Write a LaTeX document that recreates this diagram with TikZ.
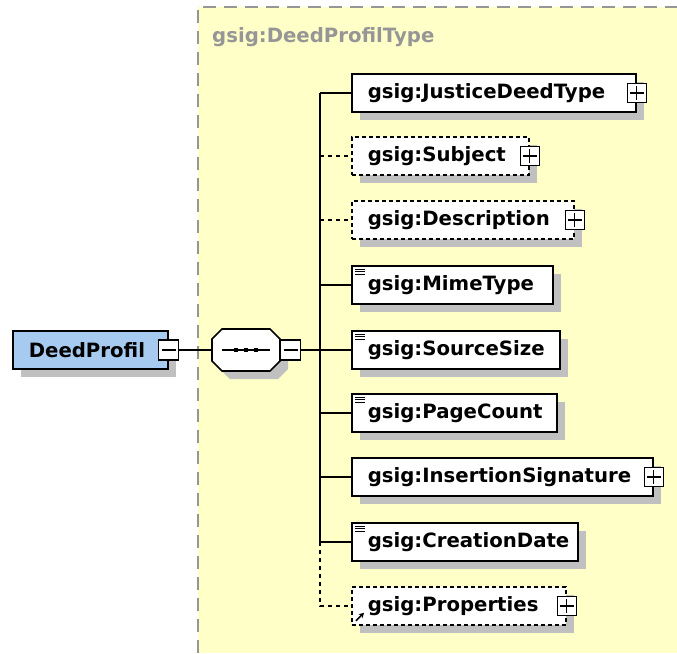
\documentclass[tikz,border=0pt]{standalone}
\usepackage{fontspec}
\setmainfont{DejaVu Sans}
\usepackage{tikz}
\usepackage{xcolor}
\usetikzlibrary{arrows.meta,shadows}

\definecolor{typeyellow}{RGB}{255,255,200}
\definecolor{typegray}{RGB}{150,150,150}
\definecolor{shadowgray}{RGB}{192,192,192}
\definecolor{rootblue}{RGB}{166,202,240}

\begin{document}
\begin{tikzpicture}[x=1pt,y=-1pt,
        every node/.style={font=\bfseries\fontsize{19.7}{22}\selectfont},
        boxshadow/.style={drop shadow={shadow xshift=8pt,shadow yshift=-8pt,fill=shadowgray,opacity=1}},
        elem/.style={draw, line width=1.6pt, fill=white, boxshadow, anchor=west,
            minimum height=38pt, inner xsep=16pt, inner ysep=0pt, text width=#1, align=left},
        optelem/.style={elem=#1, dash pattern=on 4pt off 3pt},
        listicon/.style={path picture={
            \foreach \k in {0,1,2}
                \draw[line width=0.9pt] ([xshift=3pt,yshift={-3pt-\k*2.5pt}]path picture bounding box.north west) -- ++(10pt,0pt);}},
        plusbox/.style={draw, line width=1.2pt, fill=white, minimum size=19pt, inner sep=0pt,
            path picture={\draw[line width=1.2pt]
                ([xshift=-7pt]path picture bounding box.center) -- ([xshift=7pt]path picture bounding box.center)
                ([yshift=-7pt]path picture bounding box.center) -- ([yshift=7pt]path picture bounding box.center);}},
        minusbox/.style={draw, line width=1.2pt, fill=white, minimum size=20pt, inner sep=0pt,
            path picture={\draw[line width=1.2pt]
                ([xshift=-7pt]path picture bounding box.center) -- ([xshift=7pt]path picture bounding box.center);}},
        wire/.style={line width=1.5pt},
        optwire/.style={wire, dash pattern=on 4pt off 4pt}]

    \useasboundingbox (0,0) rectangle (677,653);

    % complex type area
    \fill[typeyellow] (198,7) rectangle (677,653);
    \draw[typegray, line width=1.8pt, dash pattern=on 13pt off 8pt] (198,653) -- (198,7) -- (677,7);
    \node[anchor=west, text=typegray, inner sep=0pt] (typename) at (212,37) {gsig:DeedProfilType};

    % root element
    \node[draw, line width=1.6pt, fill=rootblue, boxshadow, anchor=west, minimum height=38pt,
          inner xsep=16pt, inner ysep=0pt, text width=123pt, align=left] (root) at (12,350) {DeedProfil};
    \node[minusbox] (rootminus) at (root.east) {};

    % sequence
    \node[minimum width=68pt, minimum height=42pt, inner sep=0pt] (seq) at (246,350) {};
    \begin{scope}[shift={(seq.center)}]
        \fill[shadowgray, shift={(8,8)}] (-34,-11) -- (-24,-21) -- (24,-21) -- (34,-11) -- (34,11) -- (24,21) -- (-24,21) -- (-34,11) -- cycle;
        \draw[line width=1.6pt, fill=white] (-34,-11) -- (-24,-21) -- (24,-21) -- (34,-11) -- (34,11) -- (24,21) -- (-24,21) -- (-34,11) -- cycle;
        \draw[line width=1.3pt] (-24,0) -- (24,0);
        \foreach \x in {-10,0,10}
            \fill (\x-2.2,-2.2) rectangle (\x+2.2,2.2);
    \end{scope}
    \node[minusbox, anchor=west] (seqminus) at (seq.east) {};
    \coordinate (bus) at (320,350);

    % children
    \node[elem=252pt] (jdt) at (351,93) {gsig:JusticeDeedType};
    \node[optelem=145pt] (subj) at (351,156) {gsig:Subject};
    \node[optelem=190pt] (desc) at (351,220) {gsig:Description};
    \node[elem=169pt, listicon] (mime) at (351,285) {gsig:MimeType};
    \node[elem=176pt, listicon] (size) at (351,350) {gsig:SourceSize};
    \node[elem=173pt, listicon] (count) at (351,413) {gsig:PageCount};
    \node[elem=269pt] (sig) at (351,477) {gsig:InsertionSignature};
    \node[elem=194pt, listicon] (date) at (351,542) {gsig:CreationDate};
    \node[optelem=182pt] (props) at (351,606) {gsig:Properties};

    \node[plusbox] (jdtplus) at (jdt.east) {};
    \node[plusbox] (subjplus) at (subj.east) {};
    \node[plusbox] (descplus) at (desc.east) {};
    \node[plusbox] (sigplus) at (sig.east) {};
    \node[plusbox] (propsplus) at (props.east) {};
    \draw[line width=1.6pt, -{Stealth[length=5pt,width=5.5pt]}] ([xshift=5pt,yshift=5pt]props.south west) -- ++(8pt,8pt);

    % connectors
    \draw[wire] (rootminus.east) -- (seq.west);
    \draw[wire] (seqminus.east) -- (bus);
    \draw[wire] (bus |- jdt.west) -- (bus |- date.west);
    \draw[wire] (bus |- jdt.west) -- (jdt.west);
    \draw[optwire] (bus |- subj.west) -- (subj.west);
    \draw[optwire] (bus |- desc.west) -- (desc.west);
    \draw[wire] (bus |- mime.west) -- (mime.west);
    \draw[wire] (bus |- size.west) -- (size.west);
    \draw[wire] (bus |- count.west) -- (count.west);
    \draw[wire] (bus |- sig.west) -- (sig.west);
    \draw[wire] (bus |- date.west) -- (date.west);
    \draw[optwire] (bus |- date.west) -- (bus |- props.west) -- (props.west);
\end{tikzpicture}
\end{document}
